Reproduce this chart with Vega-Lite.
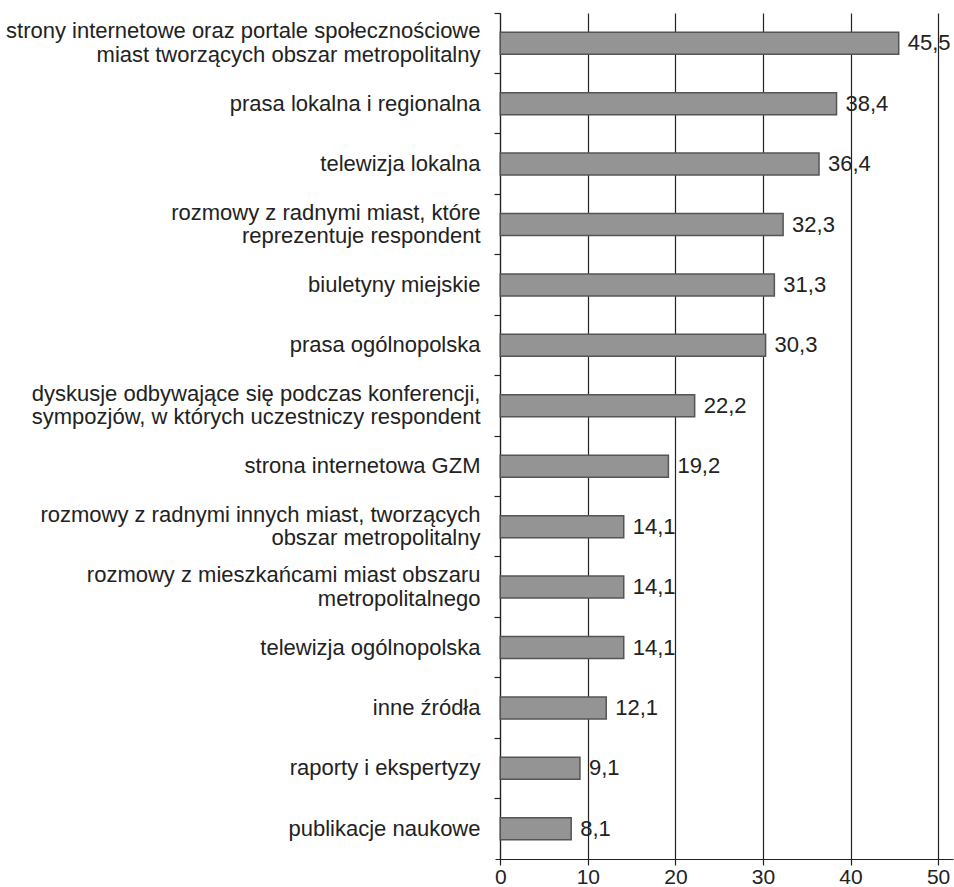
{
  "$schema": "https://vega.github.io/schema/vega-lite/v6.json",
  "autosize": {"type": "none"},
  "padding": {"left": 495, "top": 13, "right": 1, "bottom": 28},
  "width": 458,
  "height": 846,
  "config": {
    "font": "Liberation Sans",
    "view": {"stroke": null},
    "locale": {"number": {"decimal": ",", "thousands": " ", "grouping": [3], "currency": ["", ""]}}
  },
  "data": {
    "values": [
      {"kategoria": "strony internetowe oraz portale społecznościowe|miast tworzących obszar metropolitalny", "procent": 45.5},
      {"kategoria": "prasa lokalna i regionalna", "procent": 38.4},
      {"kategoria": "telewizja lokalna", "procent": 36.4},
      {"kategoria": "rozmowy z radnymi miast, które|reprezentuje respondent", "procent": 32.3},
      {"kategoria": "biuletyny miejskie", "procent": 31.3},
      {"kategoria": "prasa ogólnopolska", "procent": 30.3},
      {"kategoria": "dyskusje odbywające się podczas konferencji,|sympozjów, w których uczestniczy respondent", "procent": 22.2},
      {"kategoria": "strona internetowa GZM", "procent": 19.2},
      {"kategoria": "rozmowy z radnymi innych miast, tworzących|obszar metropolitalny", "procent": 14.1},
      {"kategoria": "rozmowy z mieszkańcami miast obszaru|metropolitalnego", "procent": 14.1},
      {"kategoria": "telewizja ogólnopolska", "procent": 14.1},
      {"kategoria": "inne źródła", "procent": 12.1},
      {"kategoria": "raporty i ekspertyzy", "procent": 9.1},
      {"kategoria": "publikacje naukowe", "procent": 8.1}
    ]
  },
  "encoding": {
    "y": {
      "field": "kategoria",
      "type": "nominal",
      "sort": null,
      "scale": {"paddingInner": 0, "paddingOuter": 0},
      "axis": {
        "title": null,
        "offset": -5,
        "bandPosition": 0,
        "domainColor": "#222222",
        "domainWidth": 1.2,
        "tickColor": "#222222",
        "tickWidth": 1.2,
        "tickSize": 6,
        "labelPadding": 14,
        "labelFontSize": 22,
        "labelColor": "#222222",
        "labelLineHeight": 23.5,
        "labelLimit": 0,
        "labelOffset": {"expr": "indexof(datum.value, '|') >= 0 ? -12 : 0"},
        "labelExpr": "split(datum.label, '|')"
      }
    },
    "x": {
      "field": "procent",
      "type": "quantitative",
      "scale": {"domain": [-0.6, 51.7], "nice": false, "zero": false},
      "axis": {
        "title": null,
        "values": [0, 10, 20, 30, 40, 50],
        "grid": true,
        "gridColor": "#222222",
        "gridWidth": 1.2,
        "gridOpacity": 1,
        "domainColor": "#222222",
        "domainWidth": 1.2,
        "tickColor": "#222222",
        "tickWidth": 1.2,
        "tickSize": 6,
        "labelFontSize": 21,
        "labelColor": "#222222",
        "labelPadding": 1,
        "labelFlush": false
      }
    }
  },
  "layer": [
    {
      "mark": {"type": "bar", "height": {"band": 0.364}, "fill": "#949494", "stroke": "#555555", "strokeWidth": 1.5},
      "encoding": {"x": {"datum": 0}, "x2": {"field": "procent"}}
    },
    {
      "mark": {"type": "text", "align": "left", "baseline": "middle", "dx": 9, "fontSize": 22, "color": "#222222"},
      "encoding": {"text": {"field": "procent", "type": "quantitative", "format": ".1f"}}
    }
  ]
}
